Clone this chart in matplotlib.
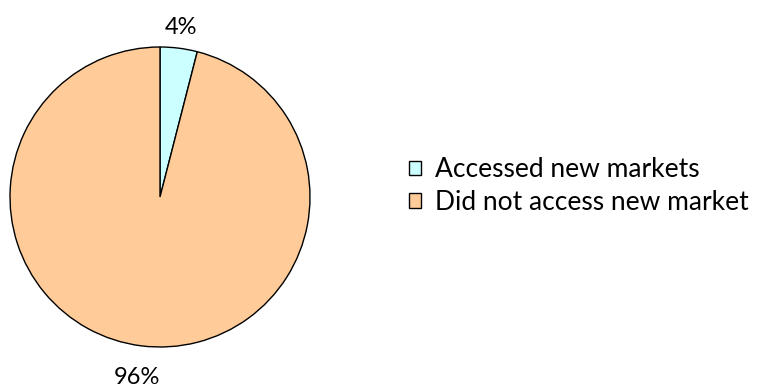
import matplotlib
matplotlib.use("Agg")
import matplotlib.pyplot as plt
import numpy as np

categories = ["Accessed new markets", "Did not access new market"]
values = [4, 96]
labels = ["4%", "96%"]
colors = ["#CCFFFF", "#FFCC99"]
label_dist = [1.14, 1.215]

plt.rcParams['font.family'] = ['Lato', 'DejaVu Sans']

fig = plt.figure(figsize=(7.58, 3.91), dpi=100)
ax = fig.add_axes([10/758, 44/391, 300/758, 300/391])
wedges, _ = ax.pie(values, colors=colors, startangle=90, counterclock=False,
                   wedgeprops=dict(edgecolor="black", linewidth=1.0))
ax.set_xlim(-1, 1)
ax.set_ylim(-1, 1)
ax.set_aspect('equal')
ax.axis('off')
for w, lab, d in zip(wedges, labels, label_dist):
    ang = np.deg2rad((w.theta1 + w.theta2) / 2)
    ax.text(d*np.cos(ang), d*np.sin(ang), lab, ha='center', va='center', fontsize=17, clip_on=False)

leg = fig.legend(wedges, categories, loc='center left', bbox_to_anchor=(409/758, 1-186/391),
                 frameon=False, fontsize=19, handlelength=0.45, handleheight=0.45,
                 handletextpad=0.55, labelspacing=0.3, borderpad=0, borderaxespad=0)
fig.savefig("out.png", dpi=100)
